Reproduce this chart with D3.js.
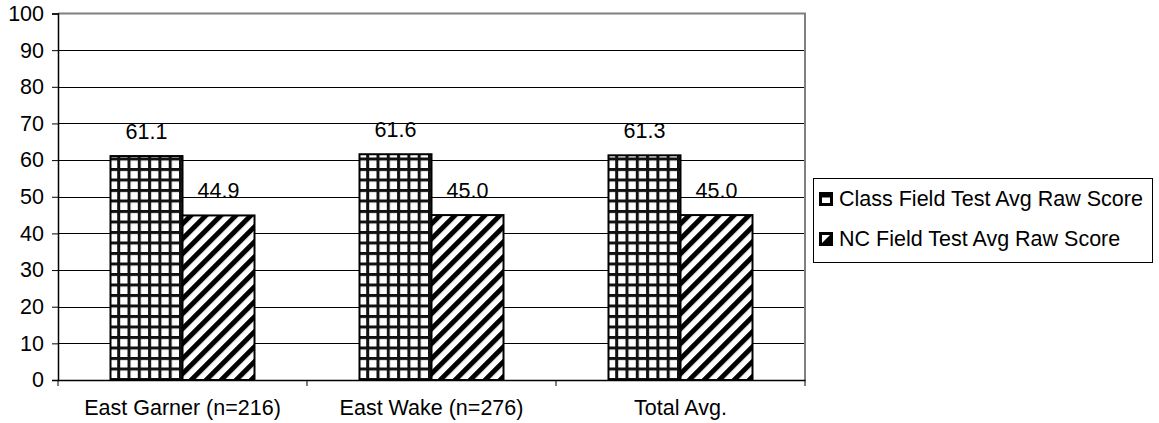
<!DOCTYPE html>
<html>
<head>
<meta charset="utf-8">
<script src="https://cdn.jsdelivr.net/npm/d3@7"></script>
<style>
  html, body { margin: 0; padding: 0; background: #fff; }
  svg { display: block; font-family: "Liberation Sans", Arial, sans-serif; }
</style>
</head>
<body>
<svg id="chart" width="1159" height="423"></svg>
<script>
const categories = ["East Garner (n=216)", "East Wake (n=276)", "Total Avg."];
const seriesNames = ["Class Field Test Avg Raw Score", "NC Field Test Avg Raw Score"];
const classScores = [61.1, 61.6, 61.3];
const ncScores = [44.9, 45.0, 45.0];
const yTicks = [0, 10, 20, 30, 40, 50, 60, 70, 80, 90, 100];

const svg = d3.select("#chart");
const fontSize = 21.5;
const plot = { left: 58, right: 805, top: 13.5, bottom: 380 };

const defs = svg.append("defs");
// grid (checker) pattern
const pg = defs.append("pattern").attr("id", "grid").attr("patternUnits", "userSpaceOnUse")
  .attr("width", 10.3).attr("height", 10.5).attr("x", 110.7).attr("y", 0);
pg.append("rect").attr("width", 10.3).attr("height", 10.5).attr("fill", "#fff");
pg.append("rect").attr("x", 0).attr("y", 0).attr("width", 3).attr("height", 10.5).attr("fill", "#111");
pg.append("rect").attr("x", 0).attr("y", 0).attr("width", 10.3).attr("height", 3).attr("fill", "#111");
// diagonal pattern
const pd = defs.append("pattern").attr("id", "diag").attr("patternUnits", "userSpaceOnUse")
  .attr("width", 10.6).attr("height", 10.6).attr("patternTransform", "rotate(45)");
pd.append("rect").attr("width", 10.6).attr("height", 10.6).attr("fill", "#fff");
pd.append("rect").attr("x", 0).attr("y", 0).attr("width", 5).attr("height", 10.6).attr("fill", "#000");

const x = d3.scaleBand().domain(categories).range([plot.left, plot.right]).padding(0);
const x1 = d3.scaleBand().domain(seriesNames).range([0, x.bandwidth()]).paddingInner(0).paddingOuter(0.729);
const y = d3.scaleLinear().domain([0, 100]).range([plot.bottom, plot.top]);

// gridlines
svg.append("g").selectAll("line").data(yTicks.filter(d => d > 0 && d < 100)).join("line")
  .attr("x1", plot.left).attr("x2", plot.right)
  .attr("y1", d => Math.round(y(d)) + 0.5).attr("y2", d => Math.round(y(d)) + 0.5)
  .attr("stroke", "#000").attr("stroke-width", 1);

// plot border (top/right gray)
svg.append("path")
  .attr("d", `M${plot.left},${y(100)}H${plot.right}V${plot.bottom}`)
  .attr("fill", "none").attr("stroke", "#808080").attr("stroke-width", 2);

// bars
const data = categories.map((c, i) => ({ cat: c, vals: [classScores[i], ncScores[i]] }));
const fills = ["url(#grid)", "url(#diag)"];
const groups = svg.append("g").selectAll("g").data(data).join("g")
  .attr("transform", d => `translate(${x(d.cat)},0)`);
groups.selectAll("rect").data(d => d.vals.map((v, j) => ({ v, s: seriesNames[j], j }))).join("rect")
  .attr("x", d => x1(d.s)).attr("width", x1.bandwidth())
  .attr("y", d => y(d.v)).attr("height", d => y(0) - y(d.v))
  .attr("fill", d => fills[d.j]).attr("stroke", "#000").attr("stroke-width", 2);
groups.selectAll("text").data(d => d.vals.map((v, j) => ({ v, s: seriesNames[j] }))).join("text")
  .attr("x", d => x1(d.s) + x1.bandwidth() / 2).attr("y", d => y(d.v) - 17)
  .attr("text-anchor", "middle").attr("font-size", fontSize).attr("fill", "#000")
  .text(d => d.v.toFixed(1));

// y axis
const yAxis = svg.append("g").attr("transform", `translate(${plot.left},0)`)
  .call(d3.axisLeft(y).tickValues(yTicks).tickSize(6).tickPadding(8).tickFormat(d3.format("d")));
yAxis.select(".domain").attr("stroke", "#000").attr("stroke-width", 1.5);
yAxis.selectAll(".tick line").attr("stroke", "#000");
yAxis.selectAll(".tick text").attr("font-size", fontSize).attr("font-family", "Liberation Sans, Arial, sans-serif").attr("fill", "#000");

// x axis
const xAxis = svg.append("g").attr("transform", `translate(0,${plot.bottom})`)
  .call(d3.axisBottom(x).tickSize(0).tickPadding(20));
xAxis.select(".domain").attr("stroke", "#000").attr("stroke-width", 1.5);
xAxis.selectAll(".tick text").attr("font-size", fontSize).attr("font-family", "Liberation Sans, Arial, sans-serif").attr("fill", "#000");
// category boundary ticks
const bounds = categories.map(c => x(c)).concat([x(categories[categories.length - 1]) + x.bandwidth()]);
svg.append("g").selectAll("line").data(bounds).join("line")
  .attr("x1", d => d).attr("x2", d => d).attr("y1", plot.bottom).attr("y2", plot.bottom + 6)
  .attr("stroke", "#000").attr("stroke-width", 1);

// legend
const lg = svg.append("g");
lg.append("rect").attr("x", 813.5).attr("y", 178.5).attr("width", 339).attr("height", 84)
  .attr("fill", "#fff").attr("stroke", "#000").attr("stroke-width", 1);
const rows = lg.selectAll("g").data(seriesNames).join("g")
  .attr("transform", (d, i) => `translate(819,${192 + i * 40})`);
rows.append("rect").attr("width", 14).attr("height", 14).attr("fill", "#000");
rows.filter((d, i) => i === 0).append("rect").attr("x", 3).attr("y", 5.5).attr("width", 8).attr("height", 5.5).attr("fill", "#fff");
rows.filter((d, i) => i === 1).append("path").attr("d", "M3,3H11L3,11Z").attr("fill", "#fff");
rows.append("text").attr("x", 20).attr("y", 14).attr("font-size", fontSize).attr("fill", "#000").text(d => d);
</script>
</body>
</html>
